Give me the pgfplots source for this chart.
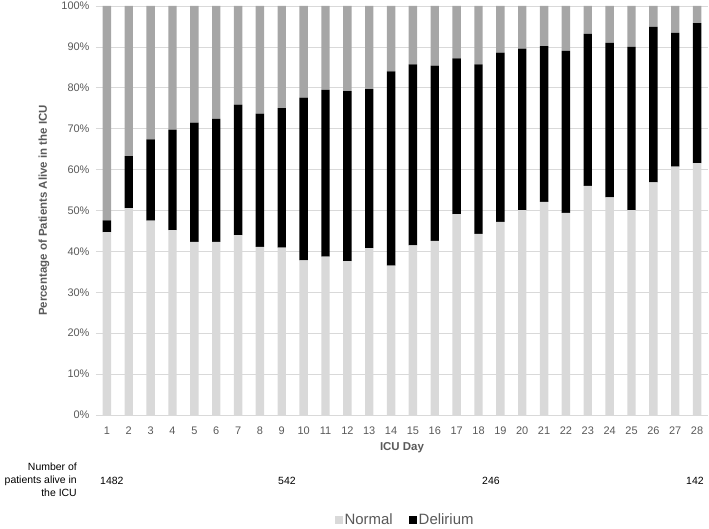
\documentclass[border=0pt]{standalone}
\usepackage{pgfplots}
\pgfplotsset{compat=1.18}
\usepackage{pgfplotstable}
\usepackage{fontspec}
\setmainfont{Liberation Sans}

\definecolor{normalgray}{HTML}{D9D9D9}
\definecolor{othergray}{HTML}{A6A6A6}
\definecolor{gridgray}{HTML}{D9D9D9}
\definecolor{textgray}{HTML}{595959}

% day, normal, delirium, remaining share (%)
\pgfplotstableread{
day normal delirium other
1  44.7  2.9 52.4
2  50.6 12.7 36.7
3  47.5 19.9 32.6
4  45.2 24.6 30.2
5  42.3 29.2 28.5
6  42.3 30.1 27.6
7  44.0 31.9 24.1
8  41.1 32.6 26.3
9  40.9 34.1 25.0
10 37.8 39.8 22.4
11 38.7 40.8 20.5
12 37.6 41.6 20.8
13 40.8 38.9 20.3
14 36.5 47.5 16.0
15 41.5 44.2 14.3
16 42.6 42.8 14.6
17 49.1 38.1 12.8
18 44.3 41.4 14.3
19 47.2 41.4 11.4
20 50.1 39.5 10.4
21 52.1 38.1  9.8
22 49.4 39.6 11.0
23 56.0 37.2  6.8
24 53.2 37.8  9.0
25 50.1 39.9 10.0
26 56.9 38.0  5.1
27 60.7 32.7  6.6
28 61.6 34.2  4.2
}\icudata

\begin{document}
\begin{tikzpicture}
  \useasboundingbox (-96bp,-114bp) rectangle (613bp,415bp);
  \begin{axis}[
    at={(0,0)},
    anchor=south west,
    scale only axis,
    width=612bp,
    height=409bp,
    ybar stacked,
    bar width=8.4bp,
    xmin=0.5, xmax=28.5,
    ymin=0, ymax=100,
    xtick={1,...,28},
    ytick={0,10,...,100},
    yticklabels={0\%,10\%,20\%,30\%,40\%,50\%,60\%,70\%,80\%,90\%,100\%},
    major tick length=0pt,
    axis x line*=bottom,
    axis y line*=left,
    x axis line style={draw=gridgray, line width=0.75bp, -},
    y axis line style={draw=none},
    ymajorgrids=true,
    grid style={draw=gridgray, line width=0.75bp},
    tick label style={font=\fontsize{11}{13}\selectfont, text=textgray},
    xticklabel style={yshift=-8bp},
    yticklabel style={xshift=-3bp},
    /pgf/number format/assume math mode=true,
    ylabel={Percentage of Patients Alive in the ICU},
    every axis y label/.style={at={(axis description cs:-0.085,0.5)}, rotate=90, anchor=center,
      font=\bfseries\fontsize{11.5}{13}\selectfont, text=textgray},
    xlabel={ICU Day},
    every axis x label/.style={at={(axis description cs:0.5,0)}, anchor=center, yshift=-32.7bp,
      font=\bfseries\fontsize{11.5}{13}\selectfont, text=textgray},
    legend style={
      at={(axis description cs:0.505,-0.257)},
      anchor=center,
      draw=none,
      inner sep=0pt,
      legend columns=2,
      font=\fontsize{15}{16}\selectfont,
      text=textgray,
      /tikz/every even column/.append style={column sep=14bp},
    },
    legend image code/.code={\fill[#1] (0bp,-4bp) rectangle (8bp,4bp);},
  ]
    \addplot[fill=normalgray, draw=none] table[x=day, y=normal] {\icudata};
    \addlegendentry{Normal}
    \addplot[fill=black, draw=none] table[x=day, y=delirium] {\icudata};
    \addlegendentry{Delirium}
    \addplot[fill=othergray, draw=none, forget plot] table[x=day, y=other] {\icudata};
  \end{axis}

  % patient counts below the axis
  \node[align=right, anchor=east, inner sep=0pt, font=\fontsize{10.5}{13}\selectfont] at (-19bp,-64.5bp)
    {Number of\\patients alive in\\the ICU};
  \node[anchor=west, inner sep=0pt, font=\fontsize{10.5}{13}\selectfont] at (4bp,-66bp) {1482};
  \node[anchor=west, inner sep=0pt, font=\fontsize{10.5}{13}\selectfont] at (182bp,-66bp) {542};
  \node[anchor=west, inner sep=0pt, font=\fontsize{10.5}{13}\selectfont] at (386bp,-66bp) {246};
  \node[anchor=west, inner sep=0pt, font=\fontsize{10.5}{13}\selectfont] at (590bp,-66bp) {142};
\end{tikzpicture}
\end{document}
